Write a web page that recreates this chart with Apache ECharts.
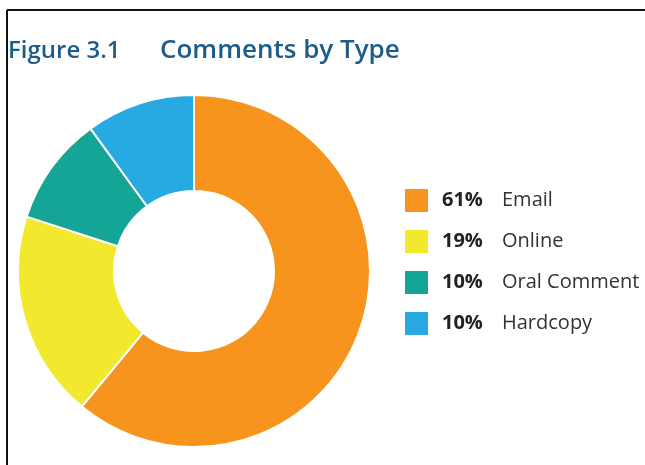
<!DOCTYPE html>
<html><head><meta charset="utf-8">
<script src="https://cdn.jsdelivr.net/npm/echarts@6/dist/echarts.min.js"></script>
<style>html,body{margin:0;padding:0;background:#fff}#c{width:645px;height:465px}</style>
</head><body><div id="c"></div>
<script>
const categories = ['Email', 'Online', 'Oral Comment', 'Hardcopy'];
const values = [61, 19, 10, 10];
const colors = ['#F7941E', '#F2E92E', '#15A597', '#27A9E1'];
const titleMain = 'Figure 3.1';
const titleSub = 'Comments by Type';

const chart = echarts.init(document.getElementById('c'));
const pctOf = {};
categories.forEach((c, i) => pctOf[c] = values[i] + '%');

chart.setOption({
  animation: false,
  title: {
    left: 8, top: 38, padding: 0,
    text: '{a|' + titleMain + '}{b|' + titleSub + '}',
    textStyle: {
      rich: {
        a: { fontFamily: 'Open Sans', fontWeight: 600, fontSize: 24, color: '#1B5C8A', width: 152 },
        b: { fontFamily: 'Open Sans', fontWeight: 600, fontSize: 26, color: '#1B5C8A' }
      }
    }
  },
  legend: {
    orient: 'vertical',
    left: 403, top: 187, padding: 0,
    itemWidth: 25, itemHeight: 25, itemGap: 14,
    icon: 'rect',
    data: categories,
    formatter: name => '{p|' + pctOf[name] + '}{n|' + name + '}',
    textStyle: {
      padding: [0, 0, 0, 8],
      rich: {
        p: { fontFamily: 'Open Sans', fontWeight: 700, fontSize: 20, lineHeight: 25, color: '#222', width: 60 },
        n: { fontFamily: 'Open Sans', fontSize: 20, lineHeight: 25, color: '#333' }
      }
    }
  },
  graphic: [
    { type: 'line', shape: { x1: 7, y1: 10, x2: 645, y2: 10 }, style: { stroke: '#111', lineWidth: 2 } },
    { type: 'line', shape: { x1: 7, y1: 10, x2: 7, y2: 465 }, style: { stroke: '#111', lineWidth: 2 } }
  ],
  series: [{
    type: 'pie',
    center: [194, 271],
    radius: [80, 176],
    startAngle: 90,
    clockwise: true,
    label: { show: false },
    labelLine: { show: false },
    itemStyle: { borderColor: '#fff', borderWidth: 2 },
    emphasis: { disabled: true },
    data: categories.map((c, i) => ({ name: c, value: values[i], itemStyle: { color: colors[i] } }))
  }]
});
</script></body></html>
